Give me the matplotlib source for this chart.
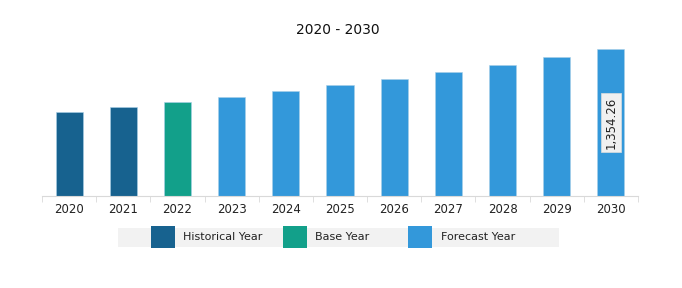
import matplotlib.pyplot as plt
from matplotlib.patches import Rectangle

# values
years = ['2020', '2021', '2022', '2023', '2024', '2025', '2026', '2027', '2028', '2029', '2030']
values = [775, 821, 868, 914, 966, 1022, 1077, 1142, 1206, 1280, 1354.26]
kinds = ['Historical Year', 'Historical Year', 'Base Year'] + ['Forecast Year'] * 8
legend_labels = ['Historical Year', 'Base Year', 'Forecast Year']
colors = {'Historical Year': '#17628f', 'Base Year': '#12a08a', 'Forecast Year': '#3398da'}

W, H = 682, 288
fig = plt.figure(figsize=(W / 100, H / 100), dpi=100)


def fx(px):
    return px / W


def fy(py):
    return 1 - py / H


ax = fig.add_axes([fx(42), fy(196), fx(638) - fx(42), fy(40) - fy(196)])
x = list(range(len(years)))
ax.bar(x, values, width=0.5, color=[colors[k] for k in kinds], edgecolor='#a9cfe8', linewidth=0.4)
ax.set_xlim(-0.5, len(years) - 0.5)
ax.set_ylim(0, 1440)

for s in ['top', 'right', 'left']:
    ax.spines[s].set_visible(False)
ax.spines['bottom'].set_color('#d9d9d9')
ax.set_yticks([])
ax.set_xticks(x)
ax.set_xticklabels(years, fontsize=8.5, color='#222222')
ax.tick_params(axis='x', length=0, pad=5)
ax.set_xticks([i - 0.5 for i in range(len(years) + 1)], minor=True)
ax.tick_params(axis='x', which='minor', length=4, color='#d9d9d9')

# value label on the last bar
ax.text(x[-1], values[-1] / 2, '{:,.2f}'.format(values[-1]), rotation=90, ha='center', va='center',
        fontsize=8.5, color='#222222',
        bbox=dict(boxstyle='square,pad=0.3', facecolor='#f0f0f0', edgecolor='#dddddd', linewidth=0.5))

fig.text(fx(338), fy(30), '2020 - 2030', ha='center', va='center', fontsize=10, color='#111111')

# legend strip
fig.add_artist(Rectangle((fx(118), fy(247)), fx(559) - fx(118), fy(228) - fy(247),
                         transform=fig.transFigure, facecolor='#f2f2f2', edgecolor='none'))
patch_x = [151, 283, 408]
text_x = [183, 315, 441]
for lab, px, tx in zip(legend_labels, patch_x, text_x):
    fig.add_artist(Rectangle((fx(px), fy(248)), fx(24), fy(226) - fy(248),
                             transform=fig.transFigure, facecolor=colors[lab], edgecolor='none'))
    fig.text(fx(tx), fy(237.5), lab, ha='left', va='center', fontsize=8, color='#222222')

fig.savefig('out.png', dpi=100)
